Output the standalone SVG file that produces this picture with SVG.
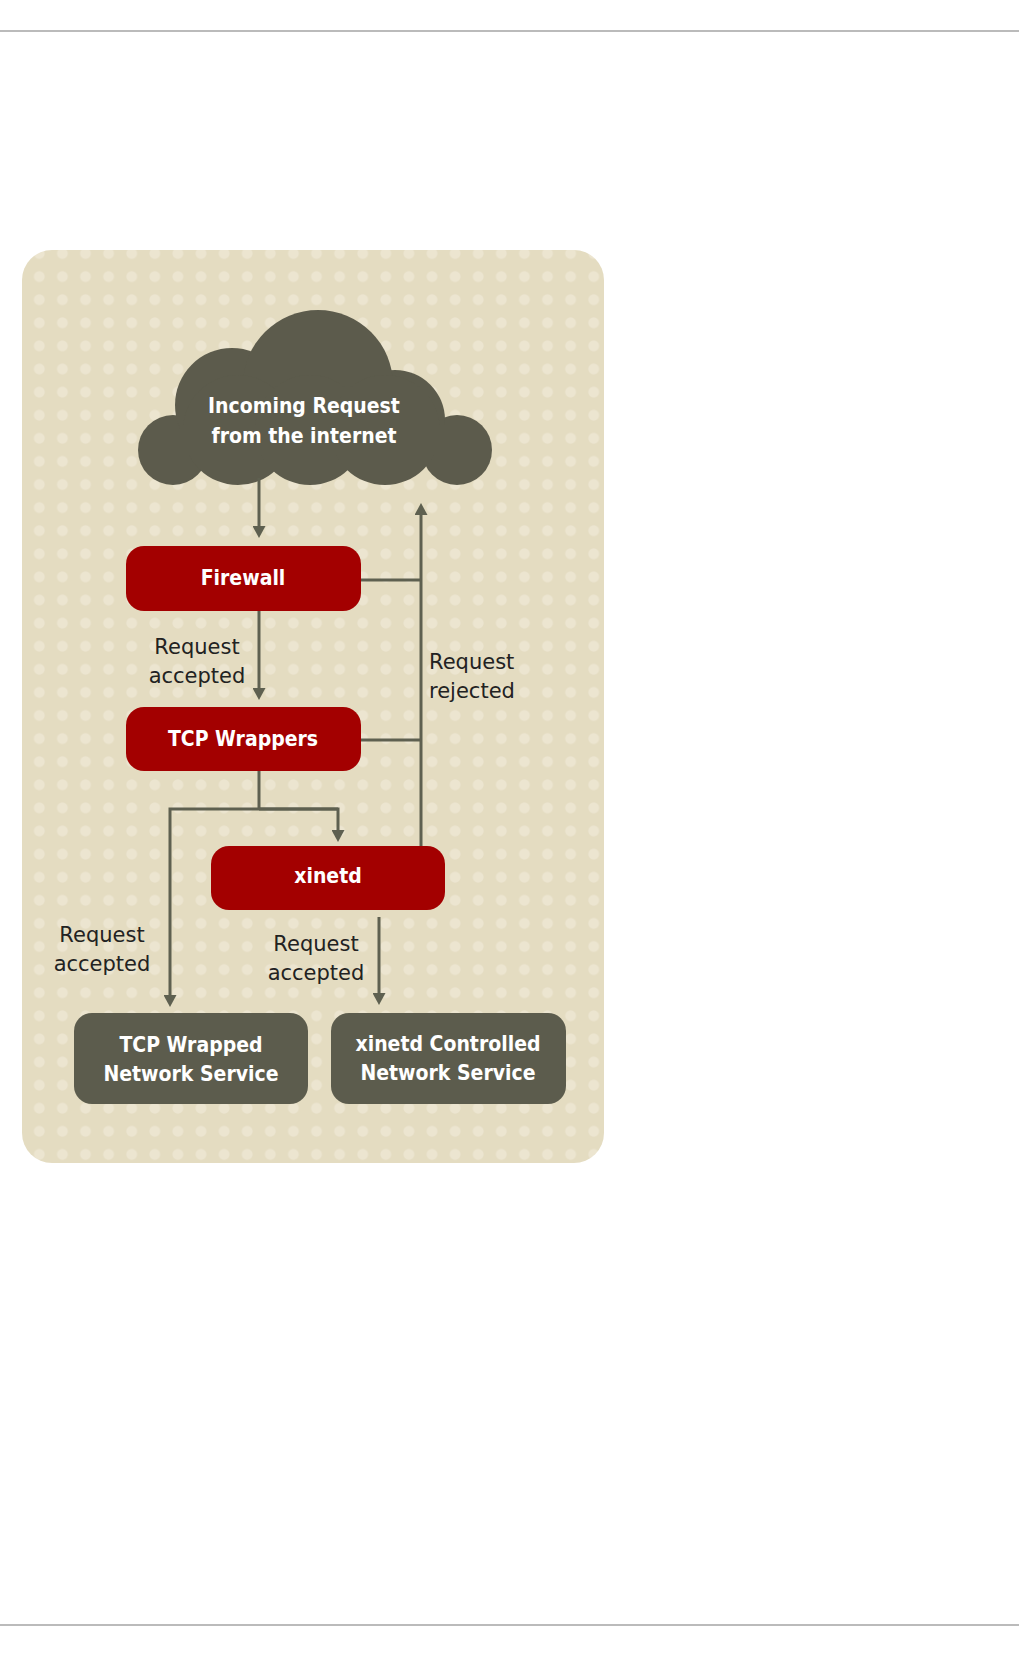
<svg xmlns="http://www.w3.org/2000/svg" width="1020" height="1656" viewBox="0 0 1020 1656">
<style>
.rule{stroke:#bbbbbb;stroke-width:2;fill:none}
.conn{stroke:#5e6050;stroke-width:3;fill:none}
.red{fill:#a30000}
.gray{fill:#5c5c4d}
.bt{font-family:"DejaVu Sans Condensed","DejaVu Sans",sans-serif;font-weight:bold;font-size:21px;fill:#ffffff;text-anchor:middle}
.lt{font-family:"DejaVu Sans",sans-serif;font-size:21px;fill:#222222;text-anchor:middle}
.ltl{font-family:"DejaVu Sans",sans-serif;font-size:21px;fill:#222222;text-anchor:start}
</style>
<defs>
<pattern id="dots" patternUnits="userSpaceOnUse" x="27.75" y="241.95" width="23.1" height="23.1">
<rect width="23.1" height="23.1" fill="#e4dcc1"/>
<circle cx="11.55" cy="11.55" r="5.5" fill="#ece5d0"/>
</pattern>
<marker id="ah" markerUnits="userSpaceOnUse" markerWidth="13" markerHeight="13" viewBox="0 0 12 13" refX="4" refY="6.5" orient="auto">
<path d="M0,0 L12,6.5 L0,13 Z" fill="#5e6050"/>
</marker>
</defs>
<rect width="1020" height="1656" fill="#ffffff"/>
<line class="rule" x1="0" y1="31" x2="1019" y2="31"/>
<line class="rule" x1="0" y1="1625" x2="1019" y2="1625"/>
<rect id="panel" x="22" y="250" width="582" height="913" rx="30" fill="url(#dots)"/>
<g id="cloud">
<g fill="#5c5b4c">
<circle cx="173" cy="450" r="35"/>
<circle cx="457" cy="450" r="35"/>
<circle cx="232" cy="405" r="57"/>
<circle cx="395" cy="420" r="50"/>
<circle cx="318" cy="385" r="75"/>
<circle cx="238" cy="430" r="55"/>
<circle cx="310" cy="430" r="55"/>
<circle cx="385" cy="430" r="55"/>
<rect x="180" y="425" width="270" height="30"/>
</g>
<text class="bt" x="304" y="413">Incoming Request</text>
<text class="bt" x="304" y="443">from the internet</text>
</g>
<g id="connectors">
<line class="conn" x1="259" y1="478" x2="259" y2="530" marker-end="url(#ah)"/>
<line class="conn" x1="259" y1="611" x2="259" y2="692" marker-end="url(#ah)"/>
<path class="conn" d="M361,580 H421"/>
<path class="conn" d="M361,740 H421"/>
<line class="conn" x1="421" y1="846" x2="421" y2="511" marker-end="url(#ah)"/>
<path class="conn" d="M259,771 V809"/>
<path class="conn" d="M338,809 H170 V999" marker-end="url(#ah)"/>
<path class="conn" d="M259,809 H338 V834" marker-end="url(#ah)"/>
<line class="conn" x1="379" y1="917" x2="379" y2="997" marker-end="url(#ah)"/>
</g>
<g id="label-accepted-1">
<text class="lt" x="197" y="654">Request</text>
<text class="lt" x="197" y="683">accepted</text>
</g>
<g id="label-rejected">
<text class="ltl" x="429" y="669">Request</text>
<text class="ltl" x="429" y="698">rejected</text>
</g>
<g id="label-accepted-2">
<text class="lt" x="102" y="942">Request</text>
<text class="lt" x="102" y="971">accepted</text>
</g>
<g id="label-accepted-3">
<text class="lt" x="316" y="951">Request</text>
<text class="lt" x="316" y="980">accepted</text>
</g>
<g id="firewall">
<rect class="red" x="126" y="546" width="235" height="65" rx="18"/>
<text class="bt" x="243" y="585">Firewall</text>
</g>
<g id="tcp-wrappers">
<rect class="red" x="126" y="707" width="235" height="64" rx="18"/>
<text class="bt" x="243" y="746">TCP Wrappers</text>
</g>
<g id="xinetd">
<rect class="red" x="211" y="846" width="234" height="64" rx="18"/>
<text class="bt" x="328" y="883">xinetd</text>
</g>
<g id="tcp-wrapped-service">
<rect class="gray" x="74" y="1013" width="234" height="91" rx="18"/>
<text class="bt" x="191" y="1052">TCP Wrapped</text>
<text class="bt" x="191" y="1081">Network Service</text>
</g>
<g id="xinetd-service">
<rect class="gray" x="331" y="1013" width="235" height="91" rx="18"/>
<text class="bt" x="448" y="1051">xinetd Controlled</text>
<text class="bt" x="448" y="1080">Network Service</text>
</g>
</svg>
